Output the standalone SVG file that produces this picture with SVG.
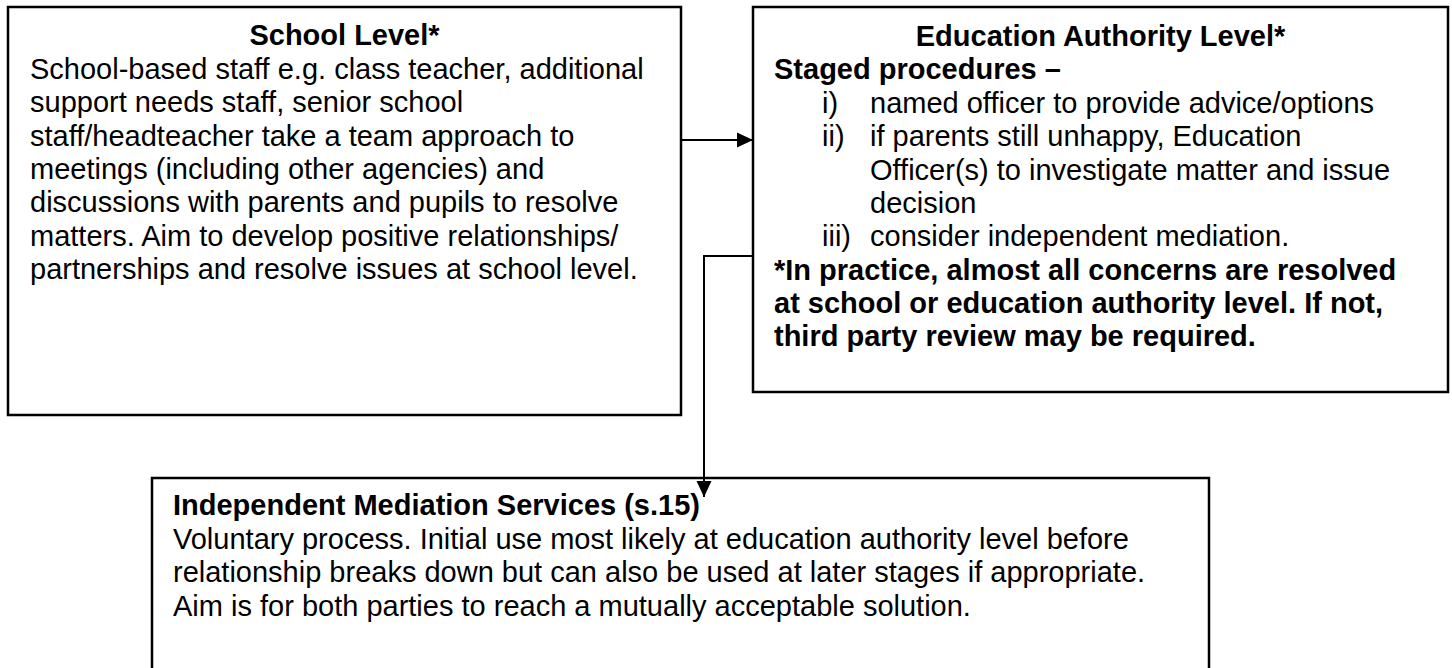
<svg xmlns="http://www.w3.org/2000/svg" width="1452" height="668" viewBox="0 0 1452 668">
<style>
.box{fill:#fff;stroke:#000;stroke-width:2.5}
.t{font-family:"Liberation Sans",Arial,sans-serif;font-size:29px;fill:#000}
.b{font-weight:bold}
.c{fill:none;stroke:#000;stroke-width:2}
</style>
<defs>
<marker id="ah" markerWidth="10" markerHeight="10" refX="9" refY="5" orient="auto" markerUnits="userSpaceOnUse" viewBox="0 0 10 10">
<path d="M0,0 L10,5 L0,10 Z" fill="#000"/>
</marker>
<marker id="ah2" markerWidth="16" markerHeight="17" refX="17" refY="8" orient="auto" markerUnits="userSpaceOnUse" viewBox="0 0 17 16">
<path d="M0,0 L17,8 L0,16 Z" fill="#000"/>
</marker>
</defs>
<rect width="1452" height="668" fill="#fff"/>
<g id="school">
<rect class="box" x="8" y="7" width="673" height="408"/>
<text class="t b" x="344.5" y="45" text-anchor="middle">School Level*</text>
<text class="t" x="30" y="79">School-based staff e.g. class teacher, additional</text>
<text class="t" x="30" y="112">support needs staff, senior school</text>
<text class="t" x="30" y="146">staff/headteacher take a team approach to</text>
<text class="t" x="30" y="179">meetings (including other agencies) and</text>
<text class="t" x="30" y="212">discussions with parents and pupils to resolve</text>
<text class="t" x="30" y="246">matters. Aim to develop positive relationships/</text>
<text class="t" x="30" y="279">partnerships and resolve issues at school level.</text>
</g>
<g id="authority">
<rect class="box" x="753" y="7" width="695" height="385"/>
<text class="t b" x="1100.5" y="46" text-anchor="middle">Education Authority Level*</text>
<text class="t b" x="774" y="79">Staged procedures –</text>
<text class="t" x="822" y="113">i)</text>
<text class="t" x="870" y="113">named officer to provide advice/options</text>
<text class="t" x="822" y="146">ii)</text>
<text class="t" x="870" y="146">if parents still unhappy, Education</text>
<text class="t" x="870" y="180">Officer(s) to investigate matter and issue</text>
<text class="t" x="870" y="213">decision</text>
<text class="t" x="822" y="246">iii)</text>
<text class="t" x="870" y="246">consider independent mediation.</text>
<text class="t b" x="774" y="280">*In practice, almost all concerns are resolved</text>
<text class="t b" x="774" y="313">at school or education authority level. If not,</text>
<text class="t b" x="774" y="346">third party review may be required.</text>
</g>
<g id="mediation">
<rect class="box" x="152" y="478" width="1057" height="200"/>
<text class="t b" x="173" y="515">Independent Mediation Services (s.15)</text>
<text class="t" x="173" y="549">Voluntary process. Initial use most likely at education authority level before</text>
<text class="t" x="173" y="582">relationship breaks down but can also be used at later stages if appropriate.</text>
<text class="t" x="173" y="616">Aim is for both parties to reach a mutually acceptable solution.</text>
</g>
<g id="connectors">
<path class="c" d="M681,140 H753" marker-end="url(#ah2)"/>
<path class="c" d="M753,256 H704 V497" marker-end="url(#ah2)"/>
</g>
</svg>
